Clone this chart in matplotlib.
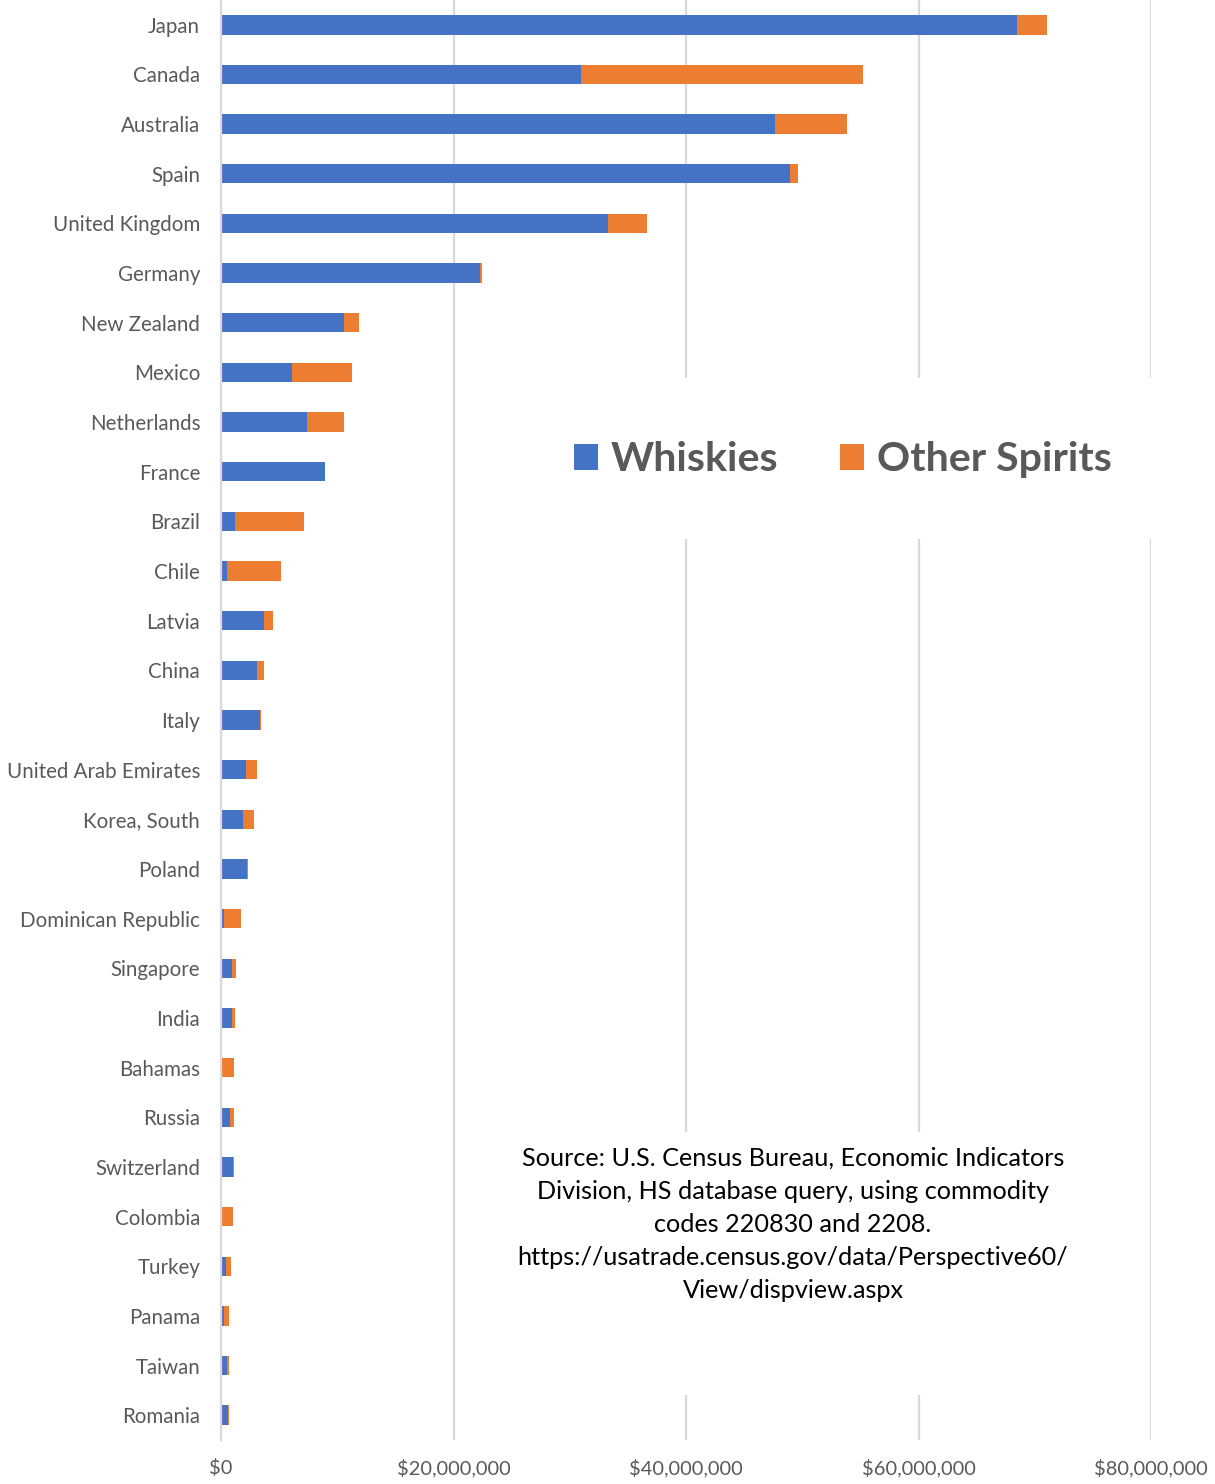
import matplotlib
matplotlib.use("Agg")
import matplotlib.pyplot as plt
from matplotlib.patches import Rectangle
from matplotlib.ticker import FuncFormatter

# U.S. spirits exports by destination (US$ millions)
countries = [
    "Japan", "Canada", "Australia", "Spain", "United Kingdom", "Germany",
    "New Zealand", "Mexico", "Netherlands", "France", "Brazil", "Chile",
    "Latvia", "China", "Italy", "United Arab Emirates", "Korea, South",
    "Poland", "Dominican Republic", "Singapore", "India", "Bahamas",
    "Russia", "Switzerland", "Colombia", "Turkey", "Panama", "Taiwan",
    "Romania",
]
whiskies = [
    68.47, 30.97, 47.66, 48.95, 33.29, 22.28,
    10.58, 6.11, 7.40, 8.92, 1.20, 0.54,
    3.70, 3.12, 3.35, 2.18, 1.89,
    2.26, 0.28, 0.97, 0.97, 0.05,
    0.77, 1.06, 0.03, 0.43, 0.26, 0.54,
    0.63,
]
other_spirits = [
    2.61, 24.28, 6.22, 0.71, 3.38, 0.17,
    1.26, 5.16, 3.15, 0.05, 5.97, 4.62,
    0.80, 0.60, 0.05, 0.92, 0.98,
    0.06, 1.47, 0.29, 0.21, 1.07,
    0.32, 0.03, 0.97, 0.46, 0.43, 0.15,
    0.06,
]
x_ticks = [0, 20, 40, 60, 80]
series_names = ["Whiskies", "Other Spirits"]
source_note = ("Source: U.S. Census Bureau, Economic Indicators\n"
               "Division, HS database query, using commodity\n"
               "codes 220830 and 2208.\n"
               "https://usatrade.census.gov/data/Perspective60/\n"
               "View/dispview.aspx")

BLUE = "#4472C4"
ORANGE = "#ED7D31"
GRID = "#D9D9D9"
LABEL = "#595959"

plt.rcParams["font.family"] = ["Lato", "DejaVu Sans"]

W, H = 1215, 1484
fig = plt.figure(figsize=(W / 100, H / 100), dpi=100)
ax = fig.add_axes([221 / W, 1 - 1440 / H, 930 / W, 1440 / H])

y = list(range(len(countries)))
ax.barh(y, whiskies, height=0.39, color=BLUE, label=series_names[0], zorder=2)
ax.barh(y, other_spirits, left=whiskies, height=0.39, color=ORANGE,
        label=series_names[1], zorder=2)

ax.set_ylim(len(countries) - 0.5, -0.5)
ax.set_xlim(0, 80)
ax.set_yticks(y)
ax.set_yticklabels(countries)
ax.set_xticks(x_ticks)
ax.xaxis.set_major_formatter(FuncFormatter(lambda v, p: f"${v * 1e6:,.0f}"))
ax.tick_params(axis="y", length=0, pad=15, labelsize=14.8, labelcolor=LABEL)
ax.tick_params(axis="x", length=0, pad=13.5, labelsize=14.4, labelcolor=LABEL)

ax.set_axisbelow(True)
ax.grid(axis="x", color=GRID, linewidth=1.6, zorder=0.5)
ax.grid(axis="y", visible=False)
for side in ("top", "right", "bottom"):
    ax.spines[side].set_visible(False)
ax.spines["left"].set_color(GRID)
ax.spines["left"].set_linewidth(1.6)

# White panels behind the legend and the source note
ax.add_patch(Rectangle((0.36, 1 - 539 / 1440), 0.7, (539 - 378) / 1440,
                       transform=ax.transAxes, facecolor="white",
                       edgecolor="none", zorder=1, clip_on=False))
ax.add_patch(Rectangle((0.41, 1 - 1395 / 1440), 0.42, (1395 - 1132) / 1440,
                       transform=ax.transAxes, facecolor="white",
                       edgecolor="none", zorder=1, clip_on=False))

leg = ax.legend(loc="center", bbox_to_anchor=(843 / W, 1 - 460 / H),
                bbox_transform=fig.transFigure, ncol=2, frameon=False,
                prop={"size": 29.6, "weight": "bold"},
                handlelength=0.585, handleheight=0.585, handletextpad=0.32,
                columnspacing=1.49)
for t in leg.get_texts():
    t.set_color(LABEL)

fig.text(793 / W, 1 - 1224.5 / H, source_note, ha="center", va="center",
         fontsize=18.2, color="black", linespacing=1.53)

fig.savefig("out.png", dpi=100, facecolor="white")
